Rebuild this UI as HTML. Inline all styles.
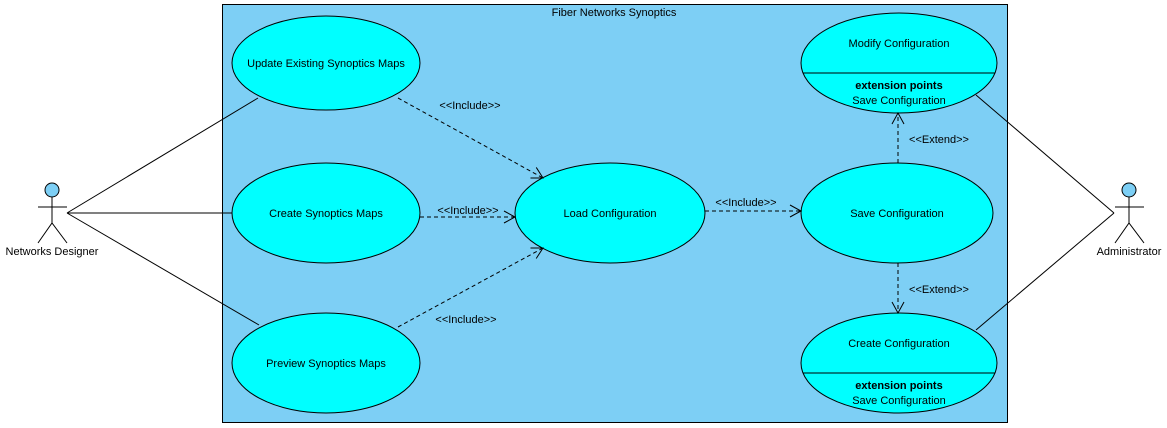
<!DOCTYPE html>
<html><head><style>
body{margin:0;background:#fff;}
svg{display:block;font-family:"Liberation Sans",sans-serif;font-size:11px;}
</style></head><body>
<svg width="1167" height="428" viewBox="0 0 1167 428">
<defs><marker id="a" markerWidth="14" markerHeight="14" refX="12" refY="7" orient="auto" markerUnits="userSpaceOnUse"><path d="M1,1 L12,7 L1,13" fill="none" stroke="#000" stroke-width="1"/></marker></defs>
<rect x="222.5" y="4.5" width="785" height="418" fill="#7dcff5" stroke="#000"/>
<text x="614" y="16" text-anchor="middle">Fiber Networks Synoptics</text>
<g stroke="#000" fill="none">
<line x1="67" y1="213" x2="258" y2="98"/>
<line x1="67" y1="213" x2="232" y2="213"/>
<line x1="67" y1="213" x2="259" y2="325"/>
<line x1="1114" y1="213" x2="976" y2="95"/>
<line x1="1114" y1="213" x2="976" y2="330"/>
</g>
<g stroke="#000" fill="#00ffff">
<ellipse cx="326" cy="63" rx="94" ry="47"/>
<ellipse cx="326" cy="213" rx="94" ry="50"/>
<ellipse cx="326" cy="363" rx="94" ry="50"/>
<ellipse cx="610" cy="213" rx="95" ry="50"/>
<ellipse cx="897" cy="213" rx="96" ry="50"/>
<ellipse cx="899" cy="63" rx="98" ry="50"/>
<ellipse cx="899" cy="363" rx="98" ry="50"/>
</g>
<g stroke="#000">
<line x1="803" y1="73" x2="995" y2="73"/>
<line x1="803" y1="373" x2="995" y2="373"/>
</g>
<g stroke="#000" fill="none" stroke-dasharray="4,3" marker-end="url(#a)">
<line x1="398" y1="98" x2="543" y2="178"/>
<line x1="420" y1="217" x2="515" y2="217"/>
<line x1="398" y1="327" x2="543" y2="248"/>
<line x1="705" y1="211" x2="801" y2="211"/>
<line x1="898" y1="163" x2="898" y2="113"/>
<line x1="898" y1="263" x2="898" y2="313"/>
</g>
<g text-anchor="middle">
<text x="470" y="109">&lt;&lt;Include&gt;&gt;</text>
<text x="468" y="214">&lt;&lt;Include&gt;&gt;</text>
<text x="466" y="323">&lt;&lt;Include&gt;&gt;</text>
<text x="746" y="206">&lt;&lt;Include&gt;&gt;</text>
<text x="939" y="143">&lt;&lt;Extend&gt;&gt;</text>
<text x="939" y="293">&lt;&lt;Extend&gt;&gt;</text>
<text x="326" y="67">Update Existing Synoptics Maps</text>
<text x="326" y="217">Create Synoptics Maps</text>
<text x="326" y="367">Preview Synoptics Maps</text>
<text x="610" y="217">Load Configuration</text>
<text x="897" y="217">Save Configuration</text>
<text x="899" y="47">Modify Configuration</text>
<text x="899" y="89" font-weight="bold">extension points</text>
<text x="899" y="104">Save Configuration</text>
<text x="899" y="347">Create Configuration</text>
<text x="899" y="389" font-weight="bold">extension points</text>
<text x="899" y="404">Save Configuration</text>
<text x="52" y="255">Networks Designer</text>
<text x="1129" y="255">Administrator</text>
</g>
<g stroke="#000" fill="none">
<circle cx="52" cy="190" r="7" fill="#7dcff5"/>
<path d="M52,197V223M38,207H67M38,243L52,223L67,243"/>
<circle cx="1129" cy="190" r="7" fill="#7dcff5"/>
<path d="M1129,197V223M1115,207H1144M1115,243L1129,223L1144,243"/>
</g>
</svg>
</body></html>
